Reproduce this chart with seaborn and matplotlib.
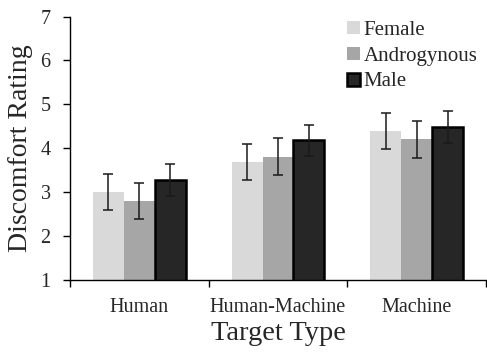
import matplotlib
matplotlib.use("Agg")
import matplotlib.pyplot as plt
import seaborn as sns
import pandas as pd

categories = ["Human", "Human-Machine", "Machine"]
genders = ["Female", "Androgynous", "Male"]
female = [3.00, 3.68, 4.39]
androgynous = [2.80, 3.81, 4.20]
male = [3.28, 4.18, 4.48]
female_err = [0.41, 0.41, 0.41]
androgynous_err = [0.41, 0.42, 0.41]
male_err = [0.37, 0.36, 0.37]
y_ticks = [1, 2, 3, 4, 5, 6, 7]

sns.set_style("ticks")
plt.rcParams["font.family"] = ["Liberation Serif", "DejaVu Serif"]

rows = []
for g, vals, errs in zip(genders, [female, androgynous, male],
                         [female_err, androgynous_err, male_err]):
    for c, v, e in zip(categories, vals, errs):
        rows.append({"Target": c, "Gender": g, "Rating": v, "Err": e})
df = pd.DataFrame(rows)

palette = {"Female": "#d9d9d9", "Androgynous": "#a6a6a6", "Male": "#262626"}

fig = plt.figure(figsize=(4.87, 3.52), dpi=100)
ax = fig.add_axes([0.1437, 0.2045, 0.8543, 0.7485])

sns.barplot(data=df, x="Target", y="Rating", hue="Gender", order=categories,
            hue_order=genders, palette=palette, errorbar=None, width=0.67,
            gap=0, ax=ax, legend=False, linewidth=0)

for g, cont in zip(genders, ax.containers):
    sub = df[df["Gender"] == g].set_index("Target").loc[categories]
    xs, ys = [], []
    for p in cont.patches:
        if g == "Male":
            p.set_edgecolor("black")
            p.set_linewidth(1.8)
        xs.append(p.get_x() + p.get_width() / 2)
        ys.append(p.get_height())
    ax.errorbar(xs, ys, yerr=sub["Err"].values, fmt="none", ecolor="#1a1a1a",
                elinewidth=1.1, capsize=3.3, capthick=1.1, zorder=5)

ax.set_ylim(1, 7)
ax.set_yticks(y_ticks)
ax.set_xlim(-0.5, 2.5)
ax.set_xticks(range(len(categories)))
ax.set_xticklabels(categories)
ax.set_xticks([-0.5, 0.5, 1.5, 2.5], minor=True)
ax.tick_params(axis="x", which="major", length=0, pad=13, labelsize=14.5)
ax.tick_params(axis="x", which="minor", length=5, width=1, direction="out", color="black")
ax.tick_params(axis="y", length=5, width=1, direction="out", pad=9,
               labelsize=14.5, color="black")

for s in ["top", "right"]:
    ax.spines[s].set_visible(False)
for s in ["left", "bottom"]:
    ax.spines[s].set_color("black")
    ax.spines[s].set_linewidth(1)

ax.set_xlabel("Target Type", fontsize=20.5, labelpad=3)
ax.set_ylabel("Discomfort Rating", fontsize=20, labelpad=5)

leg = ax.legend(ax.containers, genders, loc="upper right", frameon=False,
                fontsize=15, handlelength=0.6, handleheight=0.6,
                handletextpad=0.2, labelspacing=0.32, borderaxespad=0.2,
                bbox_to_anchor=(1.01, 1.03))

fig.savefig("out.png", dpi=100)
